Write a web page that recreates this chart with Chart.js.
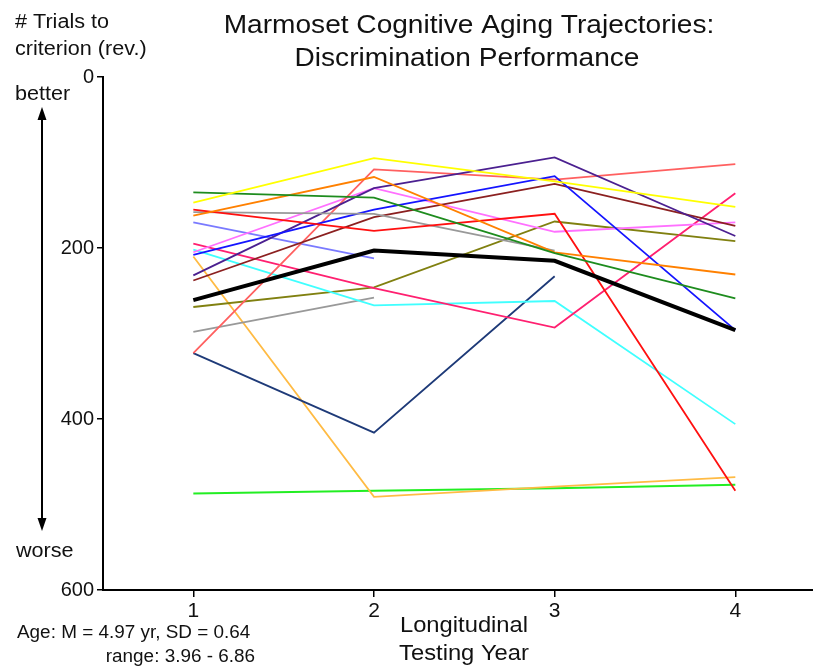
<!DOCTYPE html>
<html><head><meta charset="utf-8">
<script src="https://cdn.jsdelivr.net/npm/chart.js@4"></script>
<style>html,body{margin:0;padding:0;background:#fff;}#wrap{width:813px;height:667px;}</style>
</head><body><div id="wrap"><canvas id="c" width="813" height="667"></canvas></div>
<script>
const years = [1, 2, 3, 4];
const yTicks = [0, 200, 400, 600];
const meanTrials   = [261, 203, 215, 296];
const subjYellow   = [147, 95, 122, 152];
const subjGreen    = [135, 141, 206, 259];
const subjOrange   = [162, 117, 205, 231];
const subjRed      = [155, 180, 160, 484];
const subjGrayA    = [158, 160, 203, null];
const subjBlue     = [208, 155, 116, 296];
const subjIndigo   = [232, 130, 94, 186];
const subjBrown    = [238, 164, 125, 174];
const subjSalmon   = [323, 108, 120, 102];
const subjMagenta  = [205, 130, 181, 170];
const subjLavender = [170, 212, null, null];
const subjCrimson  = [195, 247, 293, 136];
const subjCyan     = [202, 267, 262, 406];
const subjOlive    = [269, 246, 169, 192];
const subjGrayB    = [298, 258, null, null];
const subjNavy     = [323, 416, 233, null];
const subjLtOrange = [210, 491, 479, 468];
const subjLime     = [487, 484, 481, 477];

const series = [
  [meanTrials, '#000000', 4],
  [subjYellow, '#FFFF00', 1.8],
  [subjGreen, '#1E8C1E', 1.8],
  [subjOrange, '#FF8000', 1.8],
  [subjRed, '#FF1010', 1.8],
  [subjGrayA, '#999999', 1.8],
  [subjBlue, '#1414FF', 1.8],
  [subjIndigo, '#4B2090', 1.8],
  [subjBrown, '#8B2020', 1.8],
  [subjSalmon, '#FF6060', 1.8],
  [subjMagenta, '#FF70FF', 1.8],
  [subjLavender, '#7A7AFF', 1.8],
  [subjCrimson, '#FF2070', 1.8],
  [subjCyan, '#40FFFF', 1.8],
  [subjOlive, '#808010', 1.8],
  [subjGrayB, '#999999', 1.8],
  [subjNavy, '#1E3A78', 1.8],
  [subjLtOrange, '#FFBB44', 1.8],
  [subjLime, '#22EE22', 2]
];

const FONT = '"Liberation Sans", Arial, sans-serif';
const SX = 1.08;

function txt(ctx, t, x, y, size, align) {
  ctx.save();
  ctx.font = size + 'px ' + FONT;
  ctx.textAlign = align;
  ctx.translate(x, y);
  ctx.scale(SX, 1);
  ctx.fillText(t, 0, 0);
  ctx.restore();
}

const annot = {
  id: 'annot',
  afterDraw(chart) {
    const ctx = chart.ctx;
    ctx.save();
    ctx.fillStyle = '#111';
    ctx.textBaseline = 'alphabetic';
    txt(ctx, 'Marmoset Cognitive Aging Trajectories:', 469, 33, 26, 'center');
    txt(ctx, 'Discrimination Performance', 467, 66, 26, 'center');
    txt(ctx, '# Trials to', 15, 28, 20, 'left');
    txt(ctx, 'criterion (rev.)', 15, 55, 20, 'left');
    txt(ctx, 'better', 15, 100, 20, 'left');
    txt(ctx, 'worse', 16, 557, 20, 'left');
    txt(ctx, 'Longitudinal', 464, 632, 22, 'center');
    txt(ctx, 'Testing Year', 464, 660, 22, 'center');
    txt(ctx, 'Age: M = 4.97 yr, SD = 0.64', 17, 638, 17.5, 'left');
    txt(ctx, 'range: 3.96 - 6.86', 255, 662, 17.5, 'right');
    // double arrow
    ctx.strokeStyle = '#000';
    ctx.fillStyle = '#000';
    ctx.lineWidth = 2;
    ctx.beginPath();
    ctx.moveTo(42, 116); ctx.lineTo(42, 522); ctx.stroke();
    ctx.beginPath();
    ctx.moveTo(42, 107); ctx.lineTo(37.5, 120); ctx.lineTo(46.5, 120); ctx.closePath(); ctx.fill();
    ctx.beginPath();
    ctx.moveTo(42, 531); ctx.lineTo(37.5, 518); ctx.lineTo(46.5, 518); ctx.closePath(); ctx.fill();
    ctx.restore();
  }
};

new Chart(document.getElementById('c'), {
  type: 'line',
  data: {
    datasets: series.map((s, i) => ({
      data: s[0].map((v, k) => ({x: years[k], y: v})),
      borderColor: s[1],
      borderWidth: s[2],
      pointRadius: 0,
      tension: 0,
      fill: false,
      spanGaps: false,
      order: i
    }))
  },
  options: {
    responsive: false,
    animation: false,
    events: [],
    layout: {padding: {top: 77, right: 0, left: 0, bottom: 0}},
    plugins: {legend: {display: false}, tooltip: {enabled: false}, title: {display: false}},
    scales: {
      x: {
        type: 'linear',
        min: 0.5, max: 4.43,
        afterBuildTicks(scale) { scale.ticks = years.map(v => ({value: v})); },
        afterFit(scale) { scale.height = 77; },
        border: {display: true, color: '#000', width: 2},
        grid: {display: true, drawOnChartArea: false, drawTicks: true, tickLength: 7, color: '#000', lineWidth: 1.5},
        ticks: {color: '#111', font: {size: 21, family: FONT}, padding: 2, maxRotation: 0}
      },
      y: {
        type: 'linear',
        reverse: true,
        min: 0, max: 600,
        afterBuildTicks(scale) { scale.ticks = yTicks.map(v => ({value: v})); },
        afterFit(scale) { scale.width = 103; },
        border: {display: true, color: '#000', width: 2},
        grid: {display: true, drawOnChartArea: false, drawTicks: true, tickLength: 6, color: '#000', lineWidth: 1.5},
        ticks: {color: '#111', font: {size: 20, family: FONT}, padding: 3}
      }
    }
  },
  plugins: [annot]
});
</script>
</body></html>
